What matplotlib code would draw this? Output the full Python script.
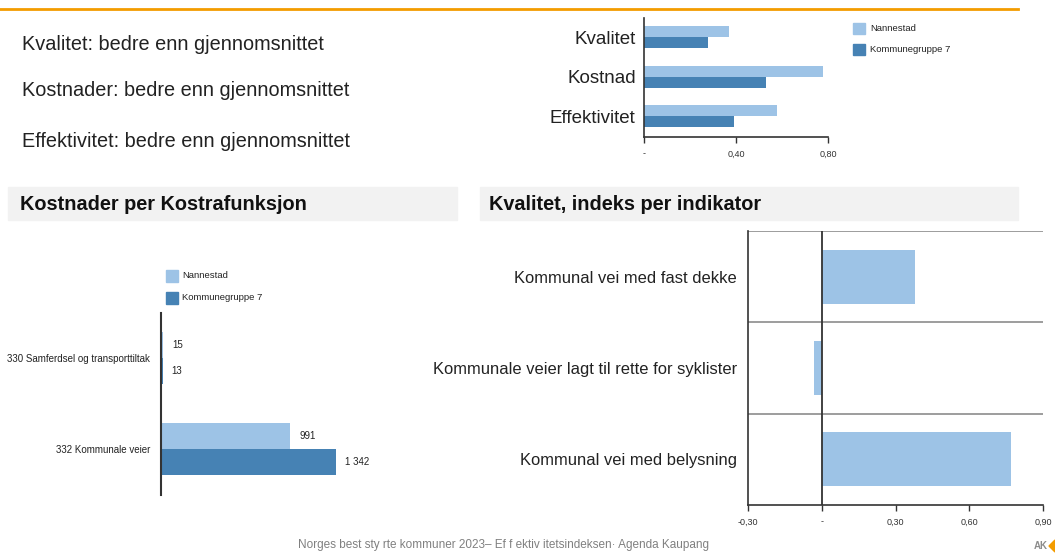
import matplotlib
matplotlib.use("Agg")
import matplotlib.pyplot as plt
from matplotlib.patches import Rectangle, Polygon

# ---- data ----
summary_lines = [
    "Kvalitet: bedre enn gjennomsnittet",
    "Kostnader: bedre enn gjennomsnittet",
    "Effektivitet: bedre enn gjennomsnittet",
]
series_names = ["Nannestad", "Kommunegruppe 7"]

index_categories = ["Kvalitet", "Kostnad", "Effektivitet"]
index_nannestad = [0.37, 0.78, 0.58]
index_group = [0.28, 0.53, 0.39]
index_ticks = [0.0, 0.4, 0.8]
index_ticklabels = ["-", "0,40", "0,80"]

kostra_categories = ["330 Samferdsel og transporttiltak", "332 Kommunale veier"]
kostra_nannestad = [15, 991]
kostra_group = [13, 1342]

quality_categories = [
    "Kommunal vei med fast dekke",
    "Kommunale veier lagt til rette for syklister",
    "Kommunal vei med belysning",
]
quality_values = [0.38, -0.03, 0.77]
quality_ticks = [-0.3, 0.0, 0.3, 0.6, 0.9]
quality_ticklabels = ["-0,30", "-", "0,30", "0,60", "0,90"]

header_left = "Kostnader per Kostrafunksjon"
header_right = "Kvalitet, indeks per indikator"
footer = "Norges best sty rte kommuner 2023\u2013 Ef f ektiv itetsindeksen\u00b7 Agenda Kaupang"

# ---- style ----
LIGHT = "#9DC3E6"
DARK = "#4682B4"
AXIS = "#333333"
GRID = "#8C8C8C"
FONT = "Liberation Sans"
plt.rcParams["font.family"] = [FONT, "DejaVu Sans"]

W, H = 1055, 554
fig = plt.figure(figsize=(W / 100, H / 100), dpi=100)


def fx(x):
    return x / W


def fy(y):
    return 1 - y / H


def add_axes_px(x0, y0, x1, y1):
    return fig.add_axes([fx(x0), fy(y1), (x1 - x0) / W, (y1 - y0) / H])


def fig_rect(x0, y0, x1, y1, color):
    fig.patches.append(Rectangle((fx(x0), fy(y1)), (x1 - x0) / W, (y1 - y0) / H,
                                 transform=fig.transFigure, color=color, zorder=0))


# orange rule at the top
fig.add_artist(plt.Line2D([0, fx(1018)], [fy(8.5), fy(8.5)], color="#F39C00",
                          lw=2, transform=fig.transFigure))

# summary text
for i, (line, yc) in enumerate(zip(summary_lines, [45, 91, 141])):
    fig.text(fx(22), fy(yc), line, fontsize=14.3, color="#222222",
             va="center", ha="left")

# ---- top-right: index overview ----
ax1 = add_axes_px(644, 18, 828, 137)
ypos = range(len(index_categories))
bh = 0.28
ax1.barh([y - bh / 2 for y in ypos], index_nannestad, height=bh, color=LIGHT,
         label=series_names[0])
ax1.barh([y + bh / 2 for y in ypos], index_group, height=bh, color=DARK,
         label=series_names[1])
ax1.set_xlim(0, 0.8)
ax1.set_ylim(2.52, -0.48)
ax1.set_yticks(list(ypos))
ax1.set_yticklabels(index_categories, fontsize=13.5, color="#222222")
ax1.tick_params(axis="y", length=0, pad=6)
ax1.set_xticks(index_ticks)
ax1.set_xticklabels(index_ticklabels, fontsize=6.5, color="#333333")
ax1.tick_params(axis="x", length=4, width=1, color=AXIS, pad=5)
for s in ["top", "right"]:
    ax1.spines[s].set_visible(False)
for s in ["left", "bottom"]:
    ax1.spines[s].set_color(AXIS)
    ax1.spines[s].set_linewidth(1.2)
ax1.patch.set_alpha(0)

# legend for top-right
for i, (name, col) in enumerate(zip(series_names, [LIGHT, DARK])):
    y0 = 23 + i * 21
    fig_rect(853, y0, 865, y0 + 11, col)
    fig.text(fx(870), fy(y0 + 5.5), name, fontsize=6.8, color="#222222",
             va="center", ha="left")

# ---- section headers ----
fig_rect(8, 187, 457, 220, "#F2F2F2")
fig_rect(480, 187, 1018, 220, "#F2F2F2")
fig.text(fx(20), fy(204), header_left, fontsize=14.3, fontweight="bold",
         color="#111111", va="center", ha="left")
fig.text(fx(489), fy(204), header_right, fontsize=14.3, fontweight="bold",
         color="#111111", va="center", ha="left")

# ---- bottom-left: costs per function ----
ax2 = add_axes_px(161, 313, 361, 495)
yk = range(len(kostra_categories))
bh2 = 0.285
b1 = ax2.barh([y - bh2 / 2 for y in yk], kostra_nannestad, height=bh2, color=LIGHT)
b2 = ax2.barh([y + bh2 / 2 for y in yk], kostra_group, height=bh2, color=DARK)
ax2.set_xlim(0, 200 / 0.1303)
ax2.set_ylim(1.505, -0.495)
ax2.set_yticks(list(yk))
ax2.set_yticklabels(kostra_categories, fontsize=7, color="#222222")
ax2.tick_params(axis="y", length=0, pad=8)
ax2.set_xticks([])
for s in ["top", "right", "bottom"]:
    ax2.spines[s].set_visible(False)
ax2.spines["left"].set_color(AXIS)
ax2.spines["left"].set_linewidth(1.5)
ax2.patch.set_alpha(0)


def fmt_int(v):
    return f"{v:,}".replace(",", " ")


for bars, vals in [(b1, kostra_nannestad), (b2, kostra_group)]:
    for rect, v in zip(bars, vals):
        ax2.annotate(fmt_int(v), (v, rect.get_y() + rect.get_height() / 2),
                     xytext=(6.5, 0), textcoords="offset points", fontsize=7,
                     va="center", ha="left", color="#222222")

for i, (name, col) in enumerate(zip(series_names, [LIGHT, DARK])):
    y0 = 270 + i * 22
    fig_rect(166, y0, 178, y0 + 12, col)
    fig.text(fx(182), fy(y0 + 6), name, fontsize=6.8, color="#222222",
             va="center", ha="left")

# ---- bottom-right: quality per indicator ----
ax3 = add_axes_px(748, 231, 1043, 505)
yq = range(len(quality_categories))
ax3.barh(list(yq), quality_values, height=0.59, color=LIGHT, zorder=2)
ax3.set_xlim(-0.3, 0.9)
ax3.set_ylim(2.5, -0.5)
for yb in [-0.5, 0.5, 1.5]:
    ax3.axhline(yb, color=GRID, lw=1.2, zorder=1)
ax3.axvline(0, color=AXIS, lw=1.3, zorder=3)
ax3.set_yticks(list(yq))
ax3.set_yticklabels(quality_categories, fontsize=11.9, color="#222222")
ax3.tick_params(axis="y", length=0, pad=8)
ax3.set_xticks(quality_ticks)
ax3.set_xticklabels(quality_ticklabels, fontsize=6.5, color="#333333")
ax3.tick_params(axis="x", length=4, width=1, color=AXIS, pad=5)
for s in ["top", "right"]:
    ax3.spines[s].set_visible(False)
for s in ["left", "bottom"]:
    ax3.spines[s].set_color(AXIS)
    ax3.spines[s].set_linewidth(1.2)
ax3.patch.set_alpha(0)

# ---- footer ----
fig.text(fx(504), fy(545), footer, fontsize=8.5, color="#808080",
         va="center", ha="center")
fig.text(fx(1034), fy(546), "AK", fontsize=7, fontweight="bold", color="#8C8C8C",
         va="center", ha="left")
fig.patches.append(Polygon([(fx(1055), fy(540)), (fx(1049), fy(546)),
                            (fx(1055), fy(552))], closed=True,
                           transform=fig.transFigure, color="#F39C00"))

fig.savefig("out.png", dpi=100, facecolor="white")
